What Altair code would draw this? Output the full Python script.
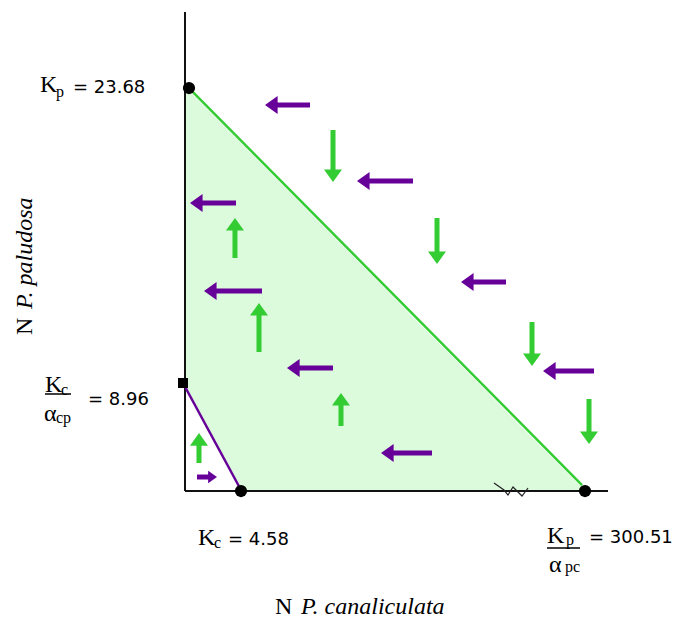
import altair as alt
import pandas as pd

# ---- schematic diagram units (axes are not to scale: broken x axis) ----
X_DOM = [-42.14, 115.95]
Y_DOM = [-27.1, 101.47]
PX_PER_X = 4.2
PX_PER_Y = 4.76

# axis extents
axis_len_x = 100.71
axis_len_y = 100.63

# equilibrium / intercept points
pt_name = ["Kp", "Kc/acp", "Kc", "Kp/apc"]
pt_x = [0.95, -0.48, 13.33, 95.24]
pt_y = [84.66, 22.69, 0.0, 0.0]

# isoclines
green_x = [0.95, 94.52]
green_y = [84.66, 1.26]
purple_x = [-0.48, 13.33]
purple_y = [22.69, 0.21]

# shaded region between isoclines
fill_x = [0.0, 13.33, 95.24]
fill_top = [84.9, 73.1, 0.0]
fill_bot = [22.0, 0.0, 0.0]

# axis break zigzag
brk_x = [73.57, 75.95, 76.90, 78.10, 79.52, 80.24, 81.67]
brk_y = [1.68, 0.21, -0.84, 0.84, -0.42, -1.05, 0.63]

# horizontal (P. canaliculata) arrows
h_y = [81.09, 65.13, 60.50, 43.91, 42.02, 25.84, 25.21, 7.98, 2.94]
h_tail = [29.76, 54.29, 12.14, 76.43, 18.33, 35.24, 97.38, 58.81, 2.86]
h_tip = [19.05, 40.95, 1.19, 65.71, 4.52, 24.29, 85.24, 46.67, 7.62]

# vertical (P. paludosa) arrows
v_x = [35.24, 60.0, 11.90, 17.62, 82.62, 37.14, 96.19, 3.33]
v_tail = [75.84, 57.35, 48.95, 29.20, 35.50, 13.66, 19.33, 5.88]
v_tip = [64.92, 47.69, 57.35, 39.50, 26.26, 20.59, 9.87, 12.18]

# labels
big_txt = ["K", "K", "K", "K", "α", "α"]
big_x = [-34.52, -33.33, 3.10, 86.19, -33.57, 86.67]
big_y = [83.82, 20.80, -11.34, -10.92, 14.71, -17.02]

sub_txt = ["p", "c", "cp", "c", "p", "pc"]
sub_x = [-30.71, -29.52, -30.71, 6.90, 90.71, 90.48]
sub_y = [82.77, 20.17, 14.29, -11.97, -11.34, -17.02]

num_txt = ["= 23.68", "= 8.96", "=  4.58", "= 300.51"]
num_x = [-26.67, -23.10, 10.24, 96.19]
num_y = [83.61, 18.07, -11.34, -10.92]

uline_x = [-33.33, 86.19]
uline_x2 = [-27.14, 94.05]
uline_y = [20.38, -11.97]

# axis titles
xt_x = [21.43, 27.62]
xt_y = [-25.84, -25.84]
yt_x = [-36.43, -36.43]
yt_y = [32.77, 38.24]

# ---- build tables ----
xs = alt.Scale(domain=X_DOM, nice=False, zero=False)
ys = alt.Scale(domain=Y_DOM, nice=False, zero=False)


def X(f="x"):
    return alt.X(f"{f}:Q", scale=xs, axis=None)


def Y(f="y"):
    return alt.Y(f"{f}:Q", scale=ys, axis=None)


rows_s, rows_h = [], []
for y, tl, tp in zip(h_y, h_tail, h_tip):
    d = "left" if tp < tl else "right"
    off = (10 if d == "left" else 6) / PX_PER_X
    sgn = 1 if tl > tp else -1
    rows_s.append(dict(x=tl, y=y, x2=tp + sgn * off, y2=y, sp="canaliculata"))
    rows_h.append(dict(x=tp, y=y, dir=d, sp="canaliculata"))
for x, tl, tp in zip(v_x, v_tail, v_tip):
    d = "up" if tp > tl else "down"
    off = 10 / PX_PER_Y
    sgn = 1 if tl > tp else -1
    rows_s.append(dict(x=x, y=tl, x2=x, y2=tp + sgn * off, sp="paludosa"))
    rows_h.append(dict(x=x, y=tp, dir=d, sp="paludosa"))
shafts = pd.DataFrame(rows_s)
heads = pd.DataFrame(rows_h)

PURPLE = "#660099"
GREEN = "#33cc33"
col = alt.Scale(domain=["canaliculata", "paludosa"], range=[PURPLE, GREEN])

axes = pd.DataFrame(dict(x=[0, 0], y=[0, 0], x2=[0, axis_len_x], y2=[axis_len_y, 0]))
axis_layer = alt.Chart(axes).mark_rule(color="#111111", strokeWidth=2).encode(
    x=X(), y=Y(), x2="x2:Q", y2="y2:Q")

area = alt.Chart(pd.DataFrame(dict(x=fill_x, top=fill_top, bot=fill_bot))).mark_area(
    color="#dcfadc", opacity=1).encode(x=X(), y=Y("top"), y2="bot:Q")

gline = alt.Chart(pd.DataFrame(dict(x=green_x, y=green_y))).mark_line(
    color=GREEN, strokeWidth=2.5).encode(x=X(), y=Y())
pline = alt.Chart(pd.DataFrame(dict(x=purple_x, y=purple_y))).mark_line(
    color=PURPLE, strokeWidth=2.5).encode(x=X(), y=Y())

brk = alt.Chart(pd.DataFrame(dict(x=brk_x, y=brk_y))).mark_line(
    color="#222222", strokeWidth=1.2).encode(x=X(), y=Y())

pdf = pd.DataFrame(dict(x=pt_x, y=pt_y, name=pt_name))
pts_c = alt.Chart(pdf[pdf["name"] != "Kc/acp"]).mark_point(
    filled=True, opacity=1, color="black", shape="circle", size=150).encode(x=X(), y=Y())
pts_s = alt.Chart(pdf[pdf["name"] == "Kc/acp"]).mark_point(
    filled=True, opacity=1, color="black", shape="square", size=100).encode(x=X(), y=Y())

shaft_layer = alt.Chart(shafts).mark_rule(strokeWidth=5, strokeCap="butt").encode(
    x=X(), y=Y(), x2="x2:Q", y2="y2:Q",
    color=alt.Color("sp:N", scale=col, legend=None))

head_paths = {
    "left": ("M0,0L1.4,-1L1.4,1Z", 324, PURPLE),
    "right": ("M0,0L-1.4,-1L-1.4,1Z", 160, PURPLE),
    "up": ("M0,0L-1,1.4L1,1.4Z", 324, GREEN),
    "down": ("M0,0L-1,-1.4L1,-1.4Z", 324, GREEN),
}
head_layers = []
for d, (path, sz, c) in head_paths.items():
    sub_df = heads[heads["dir"] == d]
    head_layers.append(
        alt.Chart(sub_df).mark_point(filled=True, opacity=1, strokeWidth=0, shape=path,
                                     size=sz, color=c).encode(x=X(), y=Y()))

big = alt.Chart(pd.DataFrame(dict(x=big_x, y=big_y, t=big_txt))).mark_text(
    align="left", baseline="alphabetic", font="Liberation Serif", fontSize=24, color="black").encode(
    x=X(), y=Y(), text="t:N")
sub = alt.Chart(pd.DataFrame(dict(x=sub_x, y=sub_y, t=sub_txt))).mark_text(
    align="left", baseline="alphabetic", font="Liberation Serif", fontSize=16, color="black").encode(
    x=X(), y=Y(), text="t:N")
num = alt.Chart(pd.DataFrame(dict(x=num_x, y=num_y, t=num_txt))).mark_text(
    align="left", baseline="alphabetic", font="DejaVu Sans", fontSize=18, color="black").encode(
    x=X(), y=Y(), text="t:N")
ul = alt.Chart(pd.DataFrame(dict(x=uline_x, x2=uline_x2, y=uline_y))).mark_rule(
    color="black", strokeWidth=1.5).encode(x=X(), x2="x2:Q", y=Y())

xt_up = alt.Chart(pd.DataFrame(dict(x=xt_x[:1], y=xt_y[:1], t=["N"]))).mark_text(
    align="left", baseline="alphabetic", font="Liberation Serif", fontSize=24, color="black").encode(
    x=X(), y=Y(), text="t:N")
xt_it = alt.Chart(pd.DataFrame(dict(x=xt_x[1:], y=xt_y[1:], t=["P. canaliculata"]))).mark_text(
    align="left", baseline="alphabetic", font="Liberation Serif", fontSize=24, fontStyle="italic",
    color="black").encode(x=X(), y=Y(), text="t:N")
yt_up = alt.Chart(pd.DataFrame(dict(x=yt_x[:1], y=yt_y[:1], t=["N"]))).mark_text(
    align="left", baseline="alphabetic", font="Liberation Serif", fontSize=24, angle=270,
    color="black").encode(x=X(), y=Y(), text="t:N")
yt_it = alt.Chart(pd.DataFrame(dict(x=yt_x[1:], y=yt_y[1:], t=["P. paludosa"]))).mark_text(
    align="left", baseline="alphabetic", font="Liberation Serif", fontSize=24, angle=270,
    fontStyle="italic", color="black").encode(x=X(), y=Y(), text="t:N")

chart = alt.layer(
    area, axis_layer, brk, gline, pline, shaft_layer, *head_layers, pts_c, pts_s,
    big, sub, num, ul, xt_up, xt_it, yt_up, yt_it,
).properties(width=664, height=612, padding=0, autosize="none").configure_view(stroke=None)

chart.save("out.html", embed_options={"renderer": "svg", "actions": False})
